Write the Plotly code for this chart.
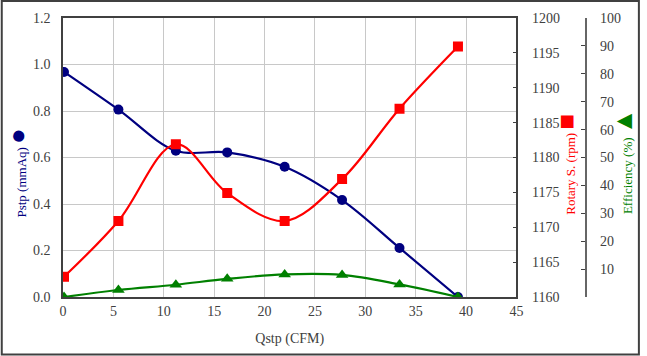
import plotly.graph_objects as go

qstp = [0.1, 5.5, 11.2, 16.3, 22.0, 27.7, 33.4, 39.2]
pstp = [0.968, 0.806, 0.629, 0.622, 0.560, 0.417, 0.211, 0.0]
rpm = [1162.9, 1170.9, 1181.9, 1174.9, 1170.9, 1176.9, 1187.0, 1195.9]
eff = [0.0, 2.5, 4.4, 6.5, 8.1, 7.9, 4.5, 0.0]

x_ticks = list(range(0, 50, 5))
eff_ticks = list(range(10, 110, 10))

NAVY = "#000080"
RED = "#FF0000"
GREEN = "#008000"
FONT = "Liberation Serif, Times New Roman, DejaVu Serif, serif"
TICKC = "#404040"
GRID = "#C8C8C8"

W, H = 647, 356
ML, MR, MT, MB = 63, 10, 18, 59
pw = W - ML - MR
ph = H - MT - MB
xdom_end = (522 - ML) / pw
eff_pos = (592 - ML) / pw

def px(xp):
    return (xp - ML) / pw

def py(yp):
    return (H - MB - yp) / ph

fig = go.Figure()
fig.add_trace(go.Scatter(x=qstp, y=pstp, mode="lines+markers", yaxis="y",
                         line=dict(color=NAVY, width=2.2, shape="spline", smoothing=1),
                         marker=dict(symbol="circle", size=10, color=NAVY)))
fig.add_trace(go.Scatter(x=qstp, y=rpm, mode="lines+markers", yaxis="y2",
                         line=dict(color=RED, width=2.2, shape="spline", smoothing=1),
                         marker=dict(symbol="square", size=10, color=RED)))
fig.add_trace(go.Scatter(x=qstp, y=eff, mode="lines+markers", yaxis="y3",
                         line=dict(color=GREEN, width=2.2, shape="spline", smoothing=1),
                         marker=dict(symbol="triangle-up", size=11, color=GREEN)))

tickfont = dict(family=FONT, size=14, color=TICKC)

fig.update_layout(
    width=W, height=H,
    margin=dict(l=ML, r=MR, t=MT, b=MB),
    paper_bgcolor="white", plot_bgcolor="white",
    showlegend=False,
    font=dict(family=FONT),
    xaxis=dict(domain=[0, xdom_end], range=[0, 45], tickvals=x_ticks,
               showgrid=True, gridcolor=GRID, gridwidth=1,
               showline=True, linecolor="#404040", linewidth=1.5, mirror=True,
               ticks="", tickfont=tickfont, zeroline=False,
               title=dict(text="Qstp (CFM)", font=dict(family=FONT, size=14, color=TICKC), standoff=16)),
    yaxis=dict(range=[0, 1.2], dtick=0.2, tickformat=".1f",
               showgrid=True, gridcolor=GRID, gridwidth=1,
               showline=True, linecolor="#404040", linewidth=1.5,
               ticks="", tickfont=tickfont, zeroline=False, ticklabelstandoff=8),
    yaxis2=dict(range=[1160, 1200], dtick=5, overlaying="y", side="right", anchor="x",
                showgrid=False, showline=True, linecolor="#404040", linewidth=1.5,
                ticks="inside", ticklen=4, tickcolor="#404040",
                tickfont=tickfont, zeroline=False, ticklabelstandoff=11),
    yaxis3=dict(range=[0, 100], tickvals=eff_ticks, overlaying="y", side="right",
                anchor="free", position=eff_pos,
                showgrid=False, showline=True, linecolor="#666666", linewidth=1.5,
                ticks="inside", ticklen=4, tickcolor="#404040",
                tickfont=tickfont, zeroline=False, ticklabelstandoff=11),
)

annots = [
    dict(text='Pstp (mmAq) <span style="font-size:26px">●</span>', x=px(16), y=py(173),
         color=NAVY),
    dict(text='Rotary S. (rpm) <span style="font-size:26px">■</span>', x=px(572), y=py(164),
         color=RED),
    dict(text='Efficiency (%) <span style="font-size:26px">▲</span>', x=px(630), y=py(161),
         color=GREEN),
]
for a in annots:
    fig.add_annotation(text=a["text"], x=a["x"], y=a["y"], xref="paper", yref="paper",
                       showarrow=False, textangle=-90, xanchor="center", yanchor="middle",
                       font=dict(family=FONT, size=13, color=a["color"]))

fig.add_shape(type="rect", xref="paper", yref="paper",
              x0=px(1), x1=px(646), y0=py(354.5), y1=py(1),
              line=dict(color="#404040", width=2), fillcolor="rgba(0,0,0,0)", layer="above")

fig.write_html("out.html", config={"displayModeBar": False},
               post_script="document.body.style.margin='0';document.body.style.overflow='hidden';")
